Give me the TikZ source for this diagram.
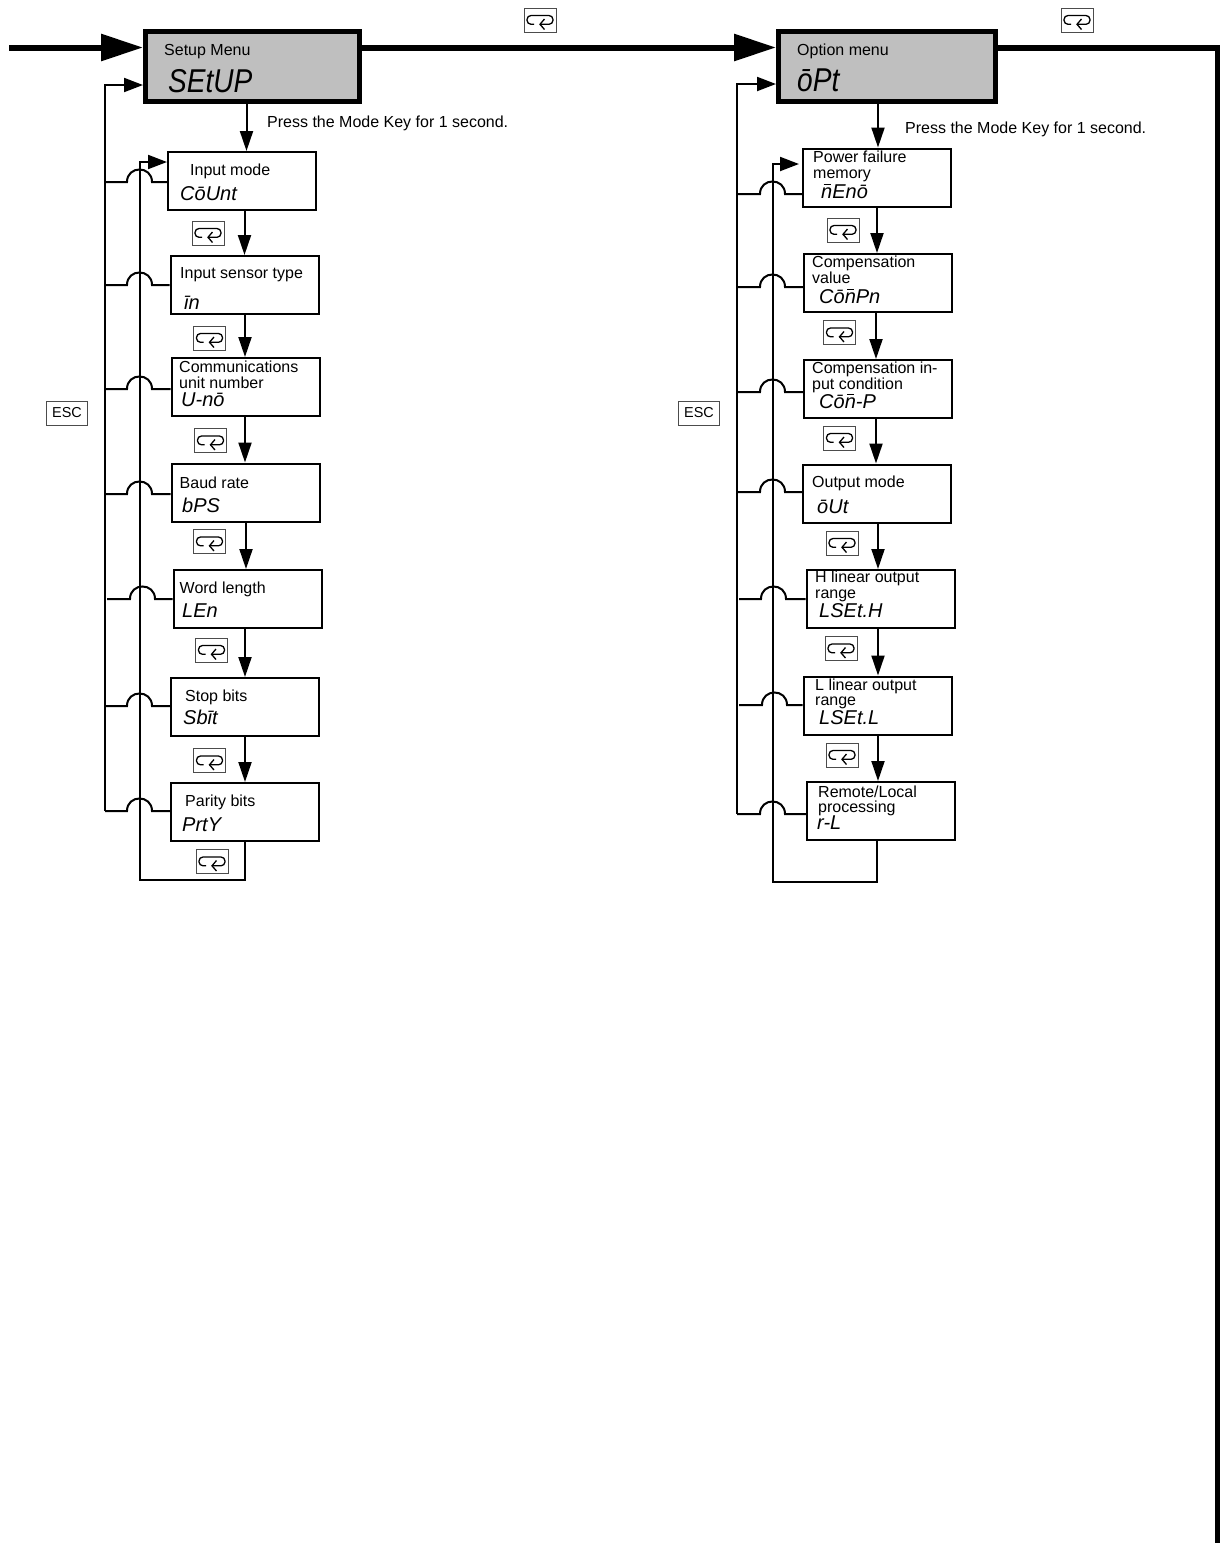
\documentclass[tikz,border=0pt]{standalone}
\usepackage{fontspec}
\setmainfont{Liberation Sans}
\newfontfamily\segwide[FakeStretch=0.85]{Liberation Sans}
\newcommand{\barn}{\leavevmode\rlap{\kern2.5pt\raisebox{13pt}{\rule{7pt}{1.3pt}}}n}
\usepackage{tikz}
\usetikzlibrary{arrows.meta,calc}
\definecolor{menugray}{RGB}{191,191,191}
\tikzset{
    menubox/.style={draw, line width=2pt, inner sep=0pt},
    headbox/.style={draw, line width=5pt, fill=menugray, inner sep=0pt},
    menutxt/.style={font=\fontsize{16}{16}\selectfont, anchor=base west, inner sep=0pt},
    segtxt/.style={font=\fontsize{20}{20}\selectfont\itshape, anchor=base west, inner sep=0pt},
    segbig/.style={font=\fontsize{33}{33}\segwide\itshape, anchor=base west, inner sep=0pt},
    keybox/.style={draw=black!70, line width=1pt, minimum width=32pt, minimum height=24pt, inner sep=0pt},
    escbox/.style={keybox, minimum width=41pt, font=\fontsize{14.4}{14.4}\selectfont},
    mainline/.style={line width=6pt},
    mainarrow/.style={mainline, -{Triangle[length=42pt,width=26pt]}},
    thinline/.style={line width=2pt},
    flowarrow/.style={thinline, -{Triangle[length=20pt,width=13pt]}},
    railarrow/.style={thinline, -{Triangle[length=19pt,width=14pt]}}
}
\begin{document}
\begin{tikzpicture}[x=1pt,y=-1pt]
    \useasboundingbox (0,0) rectangle (1220,1543);

    % Menu heads
    \node[headbox, minimum width=214pt, minimum height=70pt] (setup) at (252.5,66.5) {};
    \node[headbox, minimum width=217pt, minimum height=70pt] (option) at (887,66.5) {};

    % Thick main line
    \coordinate (mainstart) at (9,47.5);
    \coordinate (maincorner) at (1218,47.5);
    \coordinate (mainend) at (1218,1544);
    \draw[mainarrow] (mainstart) -- (setup.west |- mainstart);
    \draw[mainarrow] (setup.east |- mainstart) -- (option.west |- mainstart);
    \draw[mainline] (option.east |- mainstart) -- (maincorner) -- (mainend);

    % Setting boxes
    \foreach \nm/\cx/\cy/\bw/\bh in {
        inputmode/242/181/148/58, sensor/244.5/285/148/58, commno/245.5/387/148/58,
        baud/245.5/492.5/148/58, wordlen/247.5/599/148/58, stopbits/245/707/148/58,
        parity/245/812/148/58,
        power/877/177.5/148/58, compvalue/878/283/148/58, compinput/878/389/148/58,
        outmode/877/493.5/148/58, hlinear/880.5/599/148/58, llinear/877.5/705.5/148/58,
        remote/881/811/148/58}
        \node[menubox, minimum width=\bw pt, minimum height=\bh pt] (\nm) at (\cx,\cy) {};

    % Key presses going down
    \foreach \from/\to/\ax in {
        setup/inputmode/246.5, inputmode/sensor/244.5, sensor/commno/245, commno/baud/245,
        baud/wordlen/246, wordlen/stopbits/245, stopbits/parity/245,
        option/power/878, power/compvalue/877, compvalue/compinput/876, compinput/outmode/876,
        outmode/hlinear/878, hlinear/llinear/878, llinear/remote/878}
        \draw[flowarrow] (\from.south -| \ax,0) -- (\to.north -| \ax,0);

    % ESC rails with their bumps
    \coordinate (railleft) at (105,85);
    \coordinate (railright) at (737,84);
    \draw[railarrow] (railleft |- 0,811) -- (railleft) -- (setup.west |- railleft);
    \draw[railarrow] (railright |- 0,814) -- (railright) -- (option.west |- railright);
    \foreach \nm/\sx/\lx/\ry in {
        inputmode/105/127/182, sensor/105/127/285, commno/105/127/389, baud/105/127/494,
        wordlen/107/130/599, stopbits/105/127/706, parity/105/127/811,
        power/737/760/194, compvalue/737/760/287, compinput/737/760/392, outmode/737/760/492,
        hlinear/739/761/599, llinear/739/762/705, remote/737/760/814}
        \draw[thinline] (\sx,\ry) -- (\lx,\ry) .. controls +(0,-16.7) and +(0,-16.7) .. ({\lx+25},\ry) -- (\nm.west |- 0,\ry);

    % Return loops
    \coordinate (loopleft) at (140,880);
    \coordinate (loopright) at (773,882);
    \coordinate (backright) at (799,164);
    \draw[railarrow] (parity.south) -- (parity.south |- loopleft) -- (loopleft) -- (loopleft |- 0,162) -- (inputmode.west |- 0,162);
    \draw[railarrow] (remote.south -| 877,0) -- (877,0 |- loopright) -- (loopright) -- (loopright |- backright) -- (backright);

    % Key icons
    \foreach \kx/\ky [count=\k] in {
        540/20, 1077/20, 208/233, 209.5/338, 210.5/440.5, 209.5/541.5, 211.5/650, 209.5/760.5, 212/861.5,
        843/230, 839.5/332.5, 839.5/438, 842/543, 841/648.5, 842/755} {
        \begin{scope}[shift={(\kx,\ky)}]
            \node[keybox] (key\k) at (0,0) {};
            \draw[line width=1.3pt, rounded corners=4pt] (-6,4.3) -- (-13,4.3) -- (-13,-4.5) -- (13,-4.5) -- (13,4.3) -- (0,4.3);
            \draw[line width=1.3pt] (4.5,-1) -- (0,4.3) -- (4.5,9.5);
        \end{scope}
    }

    % ESC keys
    \node[escbox] (escleft) at (67,413) {ESC};
    \node[escbox] (escright) at (699,413) {ESC};

    % Box labels
    \foreach \nm/\tx/\ty/\lab in {
        setuptxt/164/55/{Setup Menu}, optiontxt/797/55/{Option menu},
        presstxta/267/127/{Press the Mode Key for 1 second.}, presstxtb/905/133/{Press the Mode Key for 1 second.},
        inputtxt/190/175/{Input mode}, sensortxt/180/278/{Input sensor type},
        commtxta/179/372/{Communications}, commtxtb/179/388/{unit number},
        baudtxt/179.5/488/{Baud rate}, wordtxt/179.5/593/{Word length},
        stoptxt/185/701/{Stop bits}, paritytxt/185/806/{Parity bits},
        powertxta/813/162/{Power failure}, powertxtb/813/178/{memory},
        comptxta/812/267/{Compensation}, comptxtb/812/283/{value},
        condtxta/812/373/{Compensation in-}, condtxtb/812/389/{put condition},
        outtxt/812/487/{Output mode},
        hlintxta/815/582/{H linear output}, hlintxtb/815/598/{range},
        llintxta/815/690/{L linear output}, llintxtb/815/705/{range},
        remotetxta/818/797/{Remote/Local}, remotetxtb/818/812/{processing}}
        \node[menutxt] (\nm) at (\tx,\ty) {\lab};

    % Display readings
    \node[segbig] (setupseg) at (168,92) {SEtUP};
    \node[segbig] (optionseg) at (797,91) {ōPt};
    \foreach \nm/\tx/\ty/\lab in {
        inputseg/180/200/{CōUnt}, sensorseg/184/309/{īn}, commseg/181/406/{U-nō},
        baudseg/182/512/{bPS}, wordseg/182/617/{LEn}, stopseg/183/724/{Sbīt},
        parityseg/182/831/{PrtY},
        powerseg/821/198/{\barn Enō}, compseg/819/303/{Cō\barn Pn}, condseg/819/408/{Cō\barn -P},
        outseg/817/513/{ōUt}, hlinseg/819/617/{LSEt.H}, llinseg/819/724/{LSEt.L},
        remoteseg/817/829/{r-L}}
        \node[segtxt] (\nm) at (\tx,\ty) {\lab};
\end{tikzpicture}
\end{document}
